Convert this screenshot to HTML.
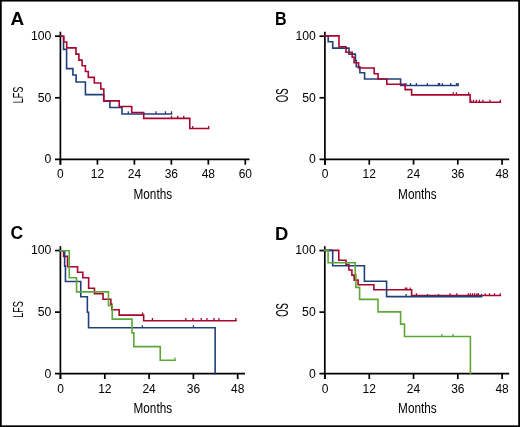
<!DOCTYPE html>
<html><head><meta charset="utf-8"><style>
html,body{margin:0;padding:0;background:#fff;}
body{width:520px;height:427px;overflow:hidden;position:relative;}
svg{position:absolute;left:0;top:0;will-change:transform;}
text{font-family:"Liberation Sans", sans-serif;fill:#000;}
</style></head><body>
<svg width="520" height="427" viewBox="0 0 520 427">
<line x1="60.40" y1="31.70" x2="60.40" y2="164.65" stroke="#000" stroke-width="1.7"/>
<line x1="55.00" y1="159.35" x2="249.50" y2="159.35" stroke="#000" stroke-width="1.7"/>
<line x1="55.00" y1="36.20" x2="60.40" y2="36.20" stroke="#000" stroke-width="1.7"/>
<line x1="55.00" y1="97.78" x2="60.40" y2="97.78" stroke="#000" stroke-width="1.7"/>
<line x1="60.45" y1="159.35" x2="60.45" y2="164.65" stroke="#000" stroke-width="1.7"/>
<line x1="97.42" y1="159.35" x2="97.42" y2="164.65" stroke="#000" stroke-width="1.7"/>
<line x1="134.39" y1="159.35" x2="134.39" y2="164.65" stroke="#000" stroke-width="1.7"/>
<line x1="171.36" y1="159.35" x2="171.36" y2="164.65" stroke="#000" stroke-width="1.7"/>
<line x1="208.33" y1="159.35" x2="208.33" y2="164.65" stroke="#000" stroke-width="1.7"/>
<line x1="245.30" y1="159.35" x2="245.30" y2="164.65" stroke="#000" stroke-width="1.7"/>
<text transform="translate(51.30,40.10) scale(1.02,1)" font-size="12" text-anchor="end">100</text>
<text transform="translate(51.30,101.68) scale(1.02,1)" font-size="12" text-anchor="end">50</text>
<text transform="translate(51.30,163.25) scale(1.02,1)" font-size="12" text-anchor="end">0</text>
<text transform="translate(60.45,178.15)" font-size="12" text-anchor="middle">0</text>
<text transform="translate(97.42,178.15)" font-size="12" text-anchor="middle">12</text>
<text transform="translate(134.39,178.15)" font-size="12" text-anchor="middle">24</text>
<text transform="translate(171.36,178.15)" font-size="12" text-anchor="middle">36</text>
<text transform="translate(208.33,178.15)" font-size="12" text-anchor="middle">48</text>
<text transform="translate(245.30,178.15)" font-size="12" text-anchor="middle">60</text>
<text transform="translate(152.80,198.65) scale(0.83,1)" font-size="14.2" text-anchor="middle">Months</text>
<text transform="translate(22.80,95.00) rotate(-90) scale(0.64,1)" font-size="14.2" text-anchor="middle">LFS</text>
<text transform="translate(10.50,24.60) scale(1.08,1)" font-size="17.5" text-anchor="start" font-weight="bold">A</text>
<line x1="324.90" y1="31.70" x2="324.90" y2="164.65" stroke="#000" stroke-width="1.7"/>
<line x1="319.50" y1="159.35" x2="509.20" y2="159.35" stroke="#000" stroke-width="1.7"/>
<line x1="319.50" y1="36.20" x2="324.90" y2="36.20" stroke="#000" stroke-width="1.7"/>
<line x1="319.50" y1="97.78" x2="324.90" y2="97.78" stroke="#000" stroke-width="1.7"/>
<line x1="325.00" y1="159.35" x2="325.00" y2="164.65" stroke="#000" stroke-width="1.7"/>
<line x1="369.27" y1="159.35" x2="369.27" y2="164.65" stroke="#000" stroke-width="1.7"/>
<line x1="413.54" y1="159.35" x2="413.54" y2="164.65" stroke="#000" stroke-width="1.7"/>
<line x1="457.81" y1="159.35" x2="457.81" y2="164.65" stroke="#000" stroke-width="1.7"/>
<line x1="502.08" y1="159.35" x2="502.08" y2="164.65" stroke="#000" stroke-width="1.7"/>
<text transform="translate(315.80,40.10) scale(1.02,1)" font-size="12" text-anchor="end">100</text>
<text transform="translate(315.80,101.68) scale(1.02,1)" font-size="12" text-anchor="end">50</text>
<text transform="translate(315.80,163.25) scale(1.02,1)" font-size="12" text-anchor="end">0</text>
<text transform="translate(325.00,178.15)" font-size="12" text-anchor="middle">0</text>
<text transform="translate(369.27,178.15)" font-size="12" text-anchor="middle">12</text>
<text transform="translate(413.54,178.15)" font-size="12" text-anchor="middle">24</text>
<text transform="translate(457.81,178.15)" font-size="12" text-anchor="middle">36</text>
<text transform="translate(502.08,178.15)" font-size="12" text-anchor="middle">48</text>
<text transform="translate(417.40,198.65) scale(0.83,1)" font-size="14.2" text-anchor="middle">Months</text>
<text transform="translate(287.50,95.30) rotate(-90) scale(0.6,1)" font-size="15.8" text-anchor="middle">OS</text>
<text transform="translate(275.00,24.80) scale(0.92,1)" font-size="17.5" text-anchor="start" font-weight="bold">B</text>
<line x1="60.40" y1="246.20" x2="60.40" y2="379.00" stroke="#000" stroke-width="1.7"/>
<line x1="55.00" y1="373.70" x2="245.00" y2="373.70" stroke="#000" stroke-width="1.7"/>
<line x1="55.00" y1="250.55" x2="60.40" y2="250.55" stroke="#000" stroke-width="1.7"/>
<line x1="55.00" y1="312.12" x2="60.40" y2="312.12" stroke="#000" stroke-width="1.7"/>
<line x1="60.50" y1="373.70" x2="60.50" y2="379.00" stroke="#000" stroke-width="1.7"/>
<line x1="104.80" y1="373.70" x2="104.80" y2="379.00" stroke="#000" stroke-width="1.7"/>
<line x1="149.10" y1="373.70" x2="149.10" y2="379.00" stroke="#000" stroke-width="1.7"/>
<line x1="193.40" y1="373.70" x2="193.40" y2="379.00" stroke="#000" stroke-width="1.7"/>
<line x1="237.70" y1="373.70" x2="237.70" y2="379.00" stroke="#000" stroke-width="1.7"/>
<text transform="translate(51.30,254.45) scale(1.02,1)" font-size="12" text-anchor="end">100</text>
<text transform="translate(51.30,316.02) scale(1.02,1)" font-size="12" text-anchor="end">50</text>
<text transform="translate(51.30,377.60) scale(1.02,1)" font-size="12" text-anchor="end">0</text>
<text transform="translate(60.50,392.50)" font-size="12" text-anchor="middle">0</text>
<text transform="translate(104.80,392.50)" font-size="12" text-anchor="middle">12</text>
<text transform="translate(149.10,392.50)" font-size="12" text-anchor="middle">24</text>
<text transform="translate(193.40,392.50)" font-size="12" text-anchor="middle">36</text>
<text transform="translate(237.70,392.50)" font-size="12" text-anchor="middle">48</text>
<text transform="translate(152.80,413.00) scale(0.83,1)" font-size="14.2" text-anchor="middle">Months</text>
<text transform="translate(22.80,309.50) rotate(-90) scale(0.64,1)" font-size="14.2" text-anchor="middle">LFS</text>
<text transform="translate(10.40,239.30)" font-size="17.5" text-anchor="start" font-weight="bold">C</text>
<line x1="324.80" y1="246.20" x2="324.80" y2="379.00" stroke="#000" stroke-width="1.7"/>
<line x1="319.40" y1="373.70" x2="509.20" y2="373.70" stroke="#000" stroke-width="1.7"/>
<line x1="319.40" y1="250.55" x2="324.80" y2="250.55" stroke="#000" stroke-width="1.7"/>
<line x1="319.40" y1="312.12" x2="324.80" y2="312.12" stroke="#000" stroke-width="1.7"/>
<line x1="325.00" y1="373.70" x2="325.00" y2="379.00" stroke="#000" stroke-width="1.7"/>
<line x1="369.27" y1="373.70" x2="369.27" y2="379.00" stroke="#000" stroke-width="1.7"/>
<line x1="413.54" y1="373.70" x2="413.54" y2="379.00" stroke="#000" stroke-width="1.7"/>
<line x1="457.81" y1="373.70" x2="457.81" y2="379.00" stroke="#000" stroke-width="1.7"/>
<line x1="502.08" y1="373.70" x2="502.08" y2="379.00" stroke="#000" stroke-width="1.7"/>
<text transform="translate(315.70,254.45) scale(1.02,1)" font-size="12" text-anchor="end">100</text>
<text transform="translate(315.70,316.02) scale(1.02,1)" font-size="12" text-anchor="end">50</text>
<text transform="translate(315.70,377.60) scale(1.02,1)" font-size="12" text-anchor="end">0</text>
<text transform="translate(325.00,392.50)" font-size="12" text-anchor="middle">0</text>
<text transform="translate(369.27,392.50)" font-size="12" text-anchor="middle">12</text>
<text transform="translate(413.54,392.50)" font-size="12" text-anchor="middle">24</text>
<text transform="translate(457.81,392.50)" font-size="12" text-anchor="middle">36</text>
<text transform="translate(502.08,392.50)" font-size="12" text-anchor="middle">48</text>
<text transform="translate(417.40,413.00) scale(0.83,1)" font-size="14.2" text-anchor="middle">Months</text>
<text transform="translate(287.50,309.90) rotate(-90) scale(0.6,1)" font-size="15.8" text-anchor="middle">OS</text>
<text transform="translate(274.90,239.50) scale(1.05,1)" font-size="17.5" text-anchor="start" font-weight="bold">D</text>
<g transform="translate(0.2,0.25)">
<path d="M60.5 36H63.3V49.1H66.4V68.4H72.7V74.7H75.9V81.7H85.2V94.4H103.5V100.6H109.7V107.3H121.8V113.7H171.3" fill="none" stroke="#20407c" stroke-width="1.6" stroke-linejoin="miter" stroke-linecap="square"/>
<path d="M128.10 113.70V111.10 M155.90 113.70V111.10 M165.20 113.70V111.10 M171.30 113.70V111.10" fill="none" stroke="#20407c" stroke-width="1.3"/>
<path d="M60.5 36H63.6V41.8H66.5V47.6H75.8V53.9H78.7V59.9H81.9V65.5H85.2V71.3H88.1V77.1H94.1V82.7H100.6V88.7H103.6V100.6H119V106.2H131.5V112.2H143.5V118.1H189.6V128.3H208.4" fill="none" stroke="#a8062e" stroke-width="1.6" stroke-linejoin="miter" stroke-linecap="square"/>
<path d="M171.30 118.10V115.50 M177.50 118.10V115.50 M183.60 118.10V115.50 M192.50 128.30V125.70 M208.40 128.30V125.70" fill="none" stroke="#a8062e" stroke-width="1.3"/>
</g>
<g transform="translate(-0.1,-0.1)">
<path d="M325 36H328.3V41.8H332.8V48.2H349.1V54.2H355.5V60.7H356.4V66.8H360V72.8H364.7V79.1H400.7V85.6H458.2" fill="none" stroke="#20407c" stroke-width="1.6" stroke-linejoin="miter" stroke-linecap="square"/>
<path d="M406.00 85.60V83.00 M410.60 85.60V83.00 M416.50 85.60V83.00 M427.50 85.60V83.00 M438.50 85.60V83.00 M439.60 85.60V83.00 M442.50 85.60V83.00 M450.80 85.60V83.00 M456.70 85.60V83.00 M458.20 85.60V83.00" fill="none" stroke="#20407c" stroke-width="1.3"/>
<path d="M325 36H339.1V46.8H346.1V52.3H352.3V57.4H354.2V62.8H358.7V68.1H374.3V73.8H378.2V79.1H386.9V84.4H405.2V89.7H411.7V95H470.2V102.4H500.4" fill="none" stroke="#a8062e" stroke-width="1.6" stroke-linejoin="miter" stroke-linecap="square"/>
<path d="M453.40 95.00V92.40 M456.50 95.00V92.40 M468.80 95.00V92.40 M471.00 102.40V99.80 M473.60 102.40V99.80 M476.40 102.40V99.80 M479.50 102.40V99.80 M483.00 102.40V99.80 M490.00 102.40V99.80 M500.40 102.40V99.80" fill="none" stroke="#a8062e" stroke-width="1.3"/>
</g>
<g transform="translate(0.05,0.3)">
<path d="M60.4 250.5H63.6V256.1H67.5V266.5H77.5V272H82.8V277.5H88.6V288H94.4V293.4H103V299H110.8V303.8H111.7V309.5H119.1V314.8H143.6V320.4H235.8" fill="none" stroke="#a8062e" stroke-width="1.6" stroke-linejoin="miter" stroke-linecap="square"/>
<path d="M142.60 314.80V312.20 M152.40 320.40V317.80 M185.80 320.40V317.80 M192.90 320.40V317.80 M201.20 320.40V317.80 M206.90 320.40V317.80 M213.90 320.40V317.80 M218.90 320.40V317.80 M235.80 320.40V317.80" fill="none" stroke="#a8062e" stroke-width="1.3"/>
<path d="M60.4 250.5H64.6V265.8H65.4V281.2H80.7V296.5H87.3V312H88.5V327.5H215.1V373.3" fill="none" stroke="#20407c" stroke-width="1.6" stroke-linejoin="miter" stroke-linecap="square"/>
<path d="M142.30 327.50V324.90 M193.40 327.50V324.90" fill="none" stroke="#20407c" stroke-width="1.3"/>
<path d="M60.4 250.5H69.2V277.5H76.5V291.6H108.4V305.2H112.2V318.8H132V332.6H133.8V346.3H160.2V359.9H174.9" fill="none" stroke="#5ea736" stroke-width="1.6" stroke-linejoin="miter" stroke-linecap="square"/>
<path d="M174.90 359.90V357.30" fill="none" stroke="#5ea736" stroke-width="1.3"/>
</g>
<g transform="translate(-0.2,-0.1)">
<path d="M324.8 250.5H339V260.3H346.2V264.7H349.1V270.1H352.1V275.2H354.4V280.2H358.3V284.8H374.1V289.8H411.8V295.6H500.5" fill="none" stroke="#a8062e" stroke-width="1.6" stroke-linejoin="miter" stroke-linecap="square"/>
<path d="M405.60 289.80V287.60 M407.00 289.80V287.60 M410.40 289.80V287.60 M416.60 295.60V293.40 M450.30 295.60V293.40 M457.00 295.60V293.40 M468.50 295.60V293.40 M470.60 295.60V293.40 M472.70 295.60V293.40 M474.80 295.60V293.40 M477.00 295.60V293.40 M478.60 295.60V293.40 M485.40 295.60V293.40 M489.70 295.60V293.40 M494.70 295.60V293.40 M500.40 295.60V293.40" fill="none" stroke="#a8062e" stroke-width="1.3"/>
<path d="M324.8 250.5H332.9V265.9H364.6V281.3H386.8V296.7H481.7" fill="none" stroke="#20407c" stroke-width="1.6" stroke-linejoin="miter" stroke-linecap="square"/>
<path d="M406.30 296.70V294.10 M427.70 296.70V294.10 M438.70 296.70V294.10 M481.70 296.70V294.10" fill="none" stroke="#20407c" stroke-width="1.3"/>
<path d="M324.8 250.5H328.3V262.8H355.4V274.7H356.1V287.5H359.8V299.5H378.2V312H400.8V324.2H404.7V336.6H470.6V373.3" fill="none" stroke="#5ea736" stroke-width="1.6" stroke-linejoin="miter" stroke-linecap="square"/>
<path d="M442.10 336.60V334.00 M453.30 336.60V334.00" fill="none" stroke="#5ea736" stroke-width="1.3"/>
</g>
<rect x="0" y="0" width="520" height="1.55" fill="#000"/>
<rect x="0" y="0" width="1.75" height="427" fill="#000"/>
<rect x="518.2" y="0" width="1.8" height="427" fill="#000"/>
<rect x="0" y="425.35" width="520" height="1.65" fill="#000"/>
</svg>
</body></html>
